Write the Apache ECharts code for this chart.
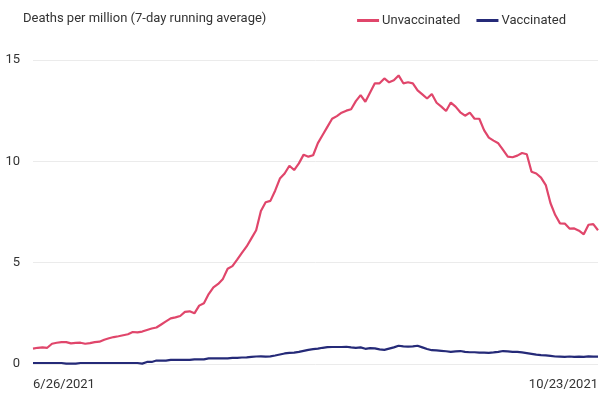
<!DOCTYPE html>
<html>
<head>
<meta charset="utf-8">
<script src="https://cdn.jsdelivr.net/npm/echarts@6/dist/echarts.min.js"></script>
<style>html,body{margin:0;padding:0;background:#fff;}#c{width:601px;height:407px;}</style>
</head>
<body>
<div id="c"></div>
<script>
const startDate = [2021, 6, 26];
const dayCount = 120;
const yTicks = [0, 5, 10, 15];
const unvaccinated = [
0.76,0.8,0.82,0.8,1.0,1.05,1.08,1.08,1.02,1.04,
1.05,1.0,1.03,1.08,1.1,1.2,1.27,1.33,1.37,1.42,
1.47,1.58,1.56,1.6,1.68,1.75,1.8,1.95,2.1,2.25,
2.3,2.37,2.57,2.6,2.5,2.88,3.0,3.45,3.78,3.95,
4.2,4.7,4.83,5.15,5.48,5.8,6.2,6.6,7.55,7.98,
8.05,8.55,9.15,9.4,9.78,9.57,9.9,10.33,10.23,10.3,
10.9,11.3,11.7,12.1,12.23,12.4,12.5,12.57,12.97,13.27,
12.94,13.4,13.85,13.85,14.09,13.9,14.0,14.24,13.85,13.9,
13.85,13.5,13.3,13.1,13.32,12.89,12.7,12.48,12.9,12.7,
12.42,12.25,12.4,12.1,12.1,11.54,11.17,11.02,10.89,10.56,
10.23,10.2,10.28,10.41,10.35,9.49,9.4,9.2,8.83,7.93,
7.35,6.94,6.93,6.68,6.69,6.58,6.4,6.87,6.9,6.6];
const vaccinated = [
0.05,0.05,0.05,0.05,0.05,0.05,0.05,0.02,0.02,0.02,
0.05,0.05,0.05,0.05,0.05,0.05,0.05,0.05,0.05,0.05,
0.05,0.05,0.05,0.02,0.1,0.1,0.17,0.17,0.17,0.2,
0.2,0.2,0.2,0.2,0.23,0.23,0.23,0.28,0.28,0.28,
0.28,0.28,0.3,0.3,0.32,0.33,0.35,0.37,0.38,0.36,
0.38,0.42,0.47,0.52,0.55,0.56,0.6,0.65,0.7,0.73,
0.76,0.8,0.83,0.84,0.84,0.84,0.85,0.82,0.8,0.82,
0.75,0.78,0.77,0.72,0.7,0.76,0.82,0.9,0.87,0.86,
0.87,0.9,0.82,0.74,0.68,0.67,0.65,0.63,0.6,0.62,
0.64,0.6,0.58,0.58,0.56,0.56,0.55,0.57,0.6,0.64,
0.62,0.6,0.6,0.57,0.54,0.5,0.46,0.44,0.43,0.4,
0.37,0.36,0.35,0.37,0.35,0.36,0.35,0.38,0.36,0.36];

const dates = [];
for (let i = 0; i < dayCount; i++) {
  const d = new Date(startDate[0], startDate[1] - 1, startDate[2] + i);
  dates.push((d.getMonth() + 1) + '/' + d.getDate() + '/' + d.getFullYear());
}

const chart = echarts.init(document.getElementById('c'));
const font = 'Roboto, "Noto Sans", sans-serif';
chart.setOption({
  animation: false,
  textStyle: { fontFamily: font },
  title: {
    text: 'Deaths per million (7-day running average)',
    left: 18, top: 7,
    textStyle: { fontSize: 13, fontWeight: 'normal', color: '#333', fontFamily: font }
  },
  legend: {
    right: 30, top: 9,
    itemWidth: 22, itemHeight: 3, itemGap: 16,
    icon: 'rect',
    textStyle: { fontSize: 13, color: '#333', fontFamily: font, padding: [0, 0, 0, -2] },
    data: ['Unvaccinated', 'Vaccinated']
  },
  grid: { left: 33, right: 3, top: 60, bottom: 43, containLabel: false },
  xAxis: {
    type: 'category',
    data: dates,
    boundaryGap: false,
    axisLine: { show: false },
    axisTick: { show: false },
    axisLabel: {
      interval: function (i) { return i === 0 || i === dayCount - 1; },
      showMinLabel: true, showMaxLabel: true,
      alignMinLabel: 'left', alignMaxLabel: 'right',
      margin: 14,
      fontSize: 13, color: '#333', fontFamily: font
    }
  },
  yAxis: {
    type: 'value',
    min: yTicks[0], max: yTicks[yTicks.length - 1], interval: 5,
    axisLine: { show: false },
    axisTick: { show: false },
    splitLine: { lineStyle: { color: '#ebebeb', width: 1 } },
    axisLabel: { fontSize: 13, color: '#333', margin: 13, fontFamily: font }
  },
  series: [
    {
      name: 'Unvaccinated', type: 'line', data: unvaccinated,
      showSymbol: false, symbol: 'none',
      lineStyle: { color: '#e0466b', width: 2.2 },
      itemStyle: { color: '#e0466b' }
    },
    {
      name: 'Vaccinated', type: 'line', data: vaccinated,
      showSymbol: false, symbol: 'none',
      lineStyle: { color: '#252a78', width: 2.2 },
      itemStyle: { color: '#252a78' }
    }
  ]
});
</script>
</body>
</html>
